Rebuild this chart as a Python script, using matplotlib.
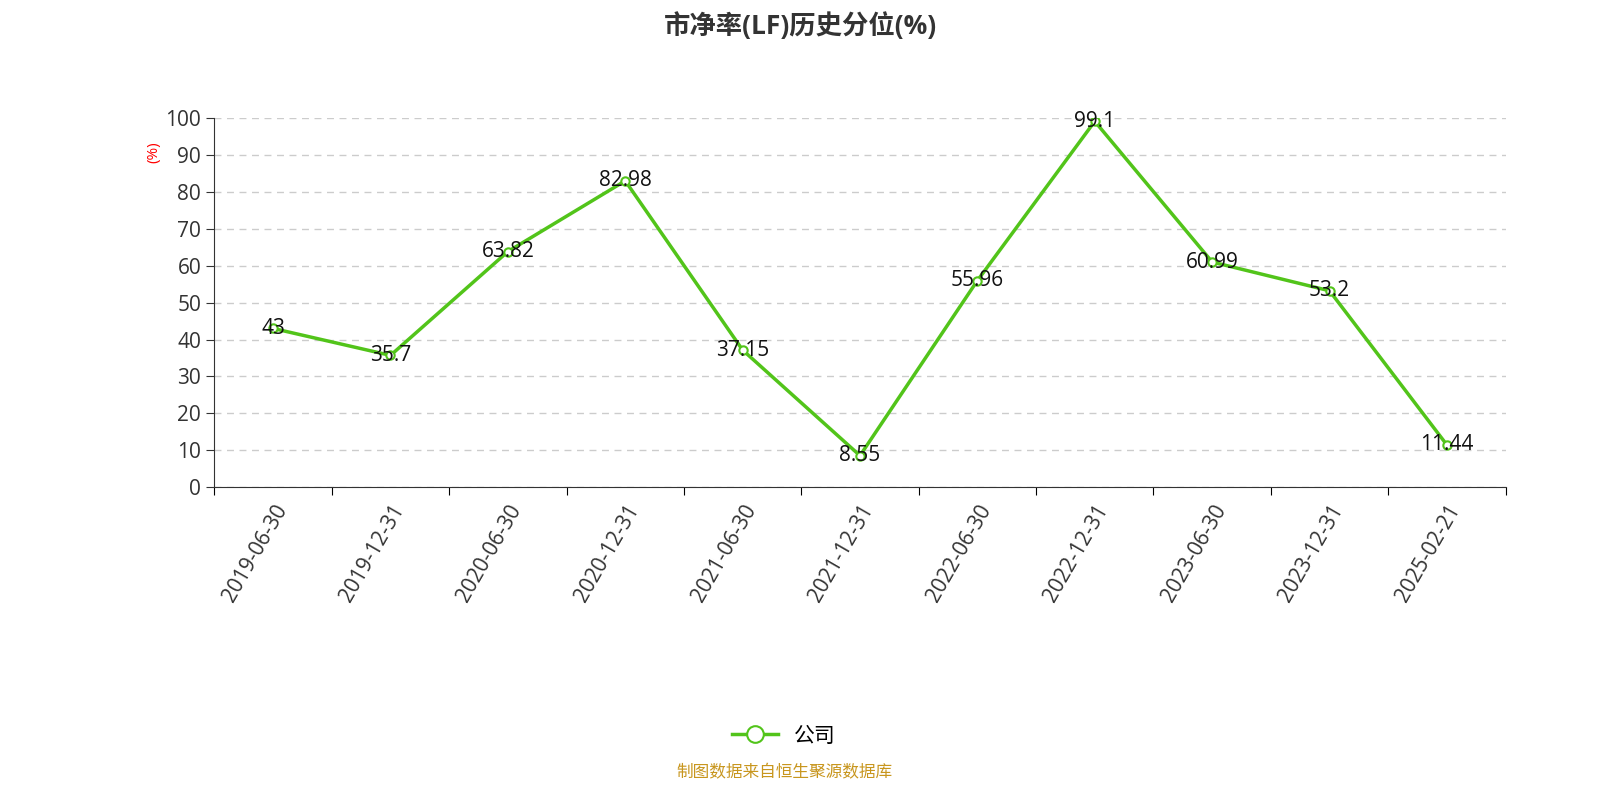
import matplotlib

matplotlib.use("Agg")
import matplotlib.pyplot as plt

plt.rcParams["font.family"] = ["Open Sans", "Noto Sans CJK SC", "DejaVu Sans"]

dates = ["2019-06-30", "2019-12-31", "2020-06-30", "2020-12-31", "2021-06-30", "2021-12-31",
         "2022-06-30", "2022-12-31", "2023-06-30", "2023-12-31", "2025-02-21"]
values = [43, 35.7, 63.82, 82.98, 37.15, 8.55, 55.96, 99.1, 60.99, 53.2, 11.44]
value_labels = ["43", "35.7", "63.82", "82.98", "37.15", "8.55", "55.96", "99.1", "60.99", "53.2", "11.44"]

green = "#52c41a"
fig = plt.figure(figsize=(16, 8), dpi=100)
ax = fig.add_axes([0.134, 0.391, 0.807, 0.4615])
x = list(range(len(dates)))
ax.plot(x, values, color=green, lw=2.5, marker="o", ms=6, mfc="white", mec=green, mew=1.5, label="公司")
for xi, v, t in zip(x, values, value_labels):
    ax.text(xi, v, t, ha="center", va="center", fontsize=15, color="#111111")

ax.set_xlim(-0.5, len(dates) - 0.5)
ax.set_ylim(0, 100)
ax.set_yticks(range(0, 101, 10))
ax.tick_params(axis="y", labelsize=15, colors="#333333", length=6)
ax.set_xticks([i - 0.5 for i in range(len(dates) + 1)])
ax.set_xticklabels([])
ax.set_xticks(x, minor=True)
ax.set_xticklabels(dates, minor=True, rotation=60, ha="right", rotation_mode="anchor", fontsize=15, color="#333333")
ax.tick_params(axis="x", which="major", length=6)
ax.tick_params(axis="x", which="minor", length=0, pad=10)
ax.grid(axis="y", ls=(0, (5, 4)), color="#cccccc", lw=1)
for s in ("top", "right"):
    ax.spines[s].set_visible(False)
ax.spines["left"].set_color("#333333")
ax.spines["bottom"].set_color("#333333")
ax.set_axisbelow(True)

fig.text(0.096, 0.81, "(%)", color="red", fontsize=11, rotation=90, ha="center", va="center")
fig.suptitle("市净率(LF)历史分位(%)", y=0.985, fontsize=19, fontweight="bold", color="#333333")
fig.legend(loc="center", bbox_to_anchor=(0.49, 0.08), frameon=False, fontsize=15, markerscale=2, handlelength=2.2)
fig.text(0.49, 0.034, "制图数据来自恒生聚源数据库", color="#c8961e", fontsize=12, ha="center", va="center")
fig.savefig("out.png", dpi=100, facecolor="white")
